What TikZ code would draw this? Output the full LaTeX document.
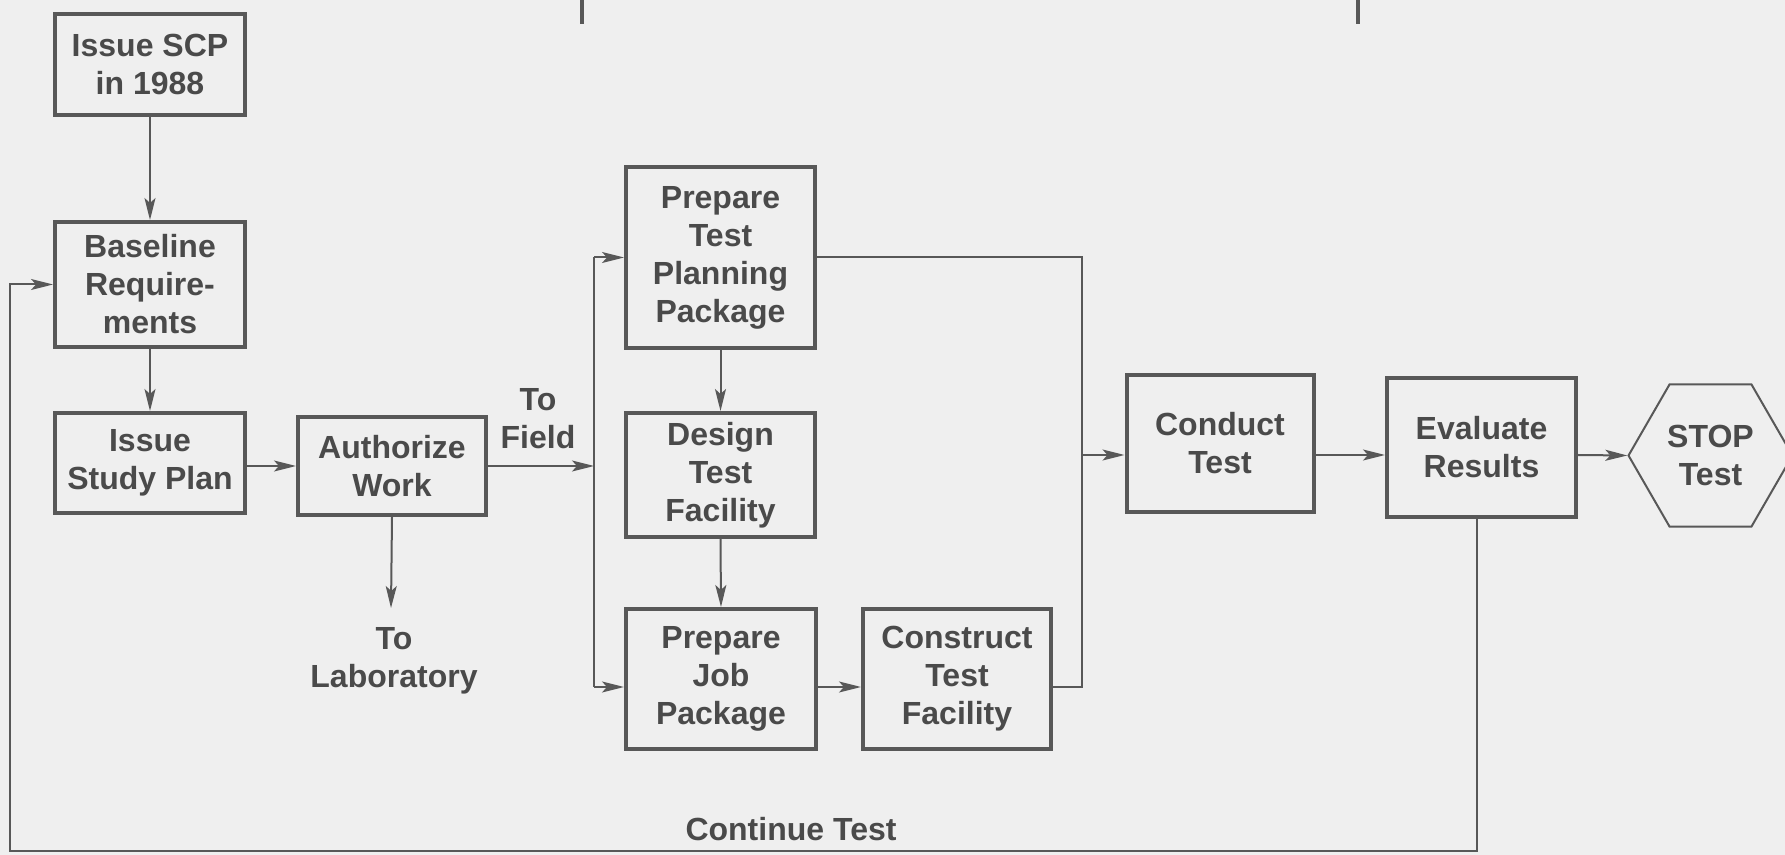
\documentclass[tikz,border=0pt]{standalone}
\usepackage{fontspec}
\setmainfont{Liberation Sans}
\usetikzlibrary{arrows.meta,shapes.geometric}
\definecolor{paper}{HTML}{EFEFEF}
\definecolor{ink}{HTML}{585858}
\definecolor{txt}{HTML}{4A4A4A}
\tikzset{
  labelfont/.style={font=\bfseries\fontsize{16}{19}\selectfont, text=txt},
  box/.style={draw=ink, line width=2pt, align=center, inner sep=0pt, labelfont},
  hexa/.style={draw=ink, line width=1pt, align=center, inner sep=0pt, labelfont,
    regular polygon, regular polygon sides=6},
  lbl/.style={align=center, inner sep=0pt, labelfont},
  flow/.style={draw=ink, line width=1pt},
  arr/.style={flow, -{Stealth[length=11pt,width=5.5pt,inset=2.5pt]}},
}
\begin{document}
\begin{tikzpicture}[x=0.5pt,y=-0.5pt]
\fill[paper] (0,0) rectangle (1785,855);
\useasboundingbox (0,0) rectangle (1785,855);

% left column
\node[box, minimum width=95pt, minimum height=50.5pt] (scp)   at (150,64.5)  {Issue SCP\\in 1988};
\node[box, minimum width=95pt, minimum height=62.5pt] (base)  at (150,284.5) {Baseline\\Require-\\ments};
\node[box, minimum width=95pt, minimum height=50pt]   (study) at (150,463)   {Issue\\Study Plan};
\node[box, minimum width=94pt, minimum height=49pt]   (auth)  at (392,466)   {Authorize\\Work};

% field branch
\node[box, minimum width=94.5pt, minimum height=90.5pt] (ptp) at (720.5,257.5) {Prepare\\Test\\Planning\\Package};
\node[box, minimum width=94.5pt, minimum height=62pt]   (dtf) at (720.5,475)   {Design\\Test\\Facility};
\node[box, minimum width=95pt,   minimum height=70pt]   (pjp) at (721,679)     {Prepare\\Job\\Package};
\node[box, minimum width=94pt,   minimum height=70pt]   (ctf) at (957,679)     {Construct\\Test\\Facility};

% test and evaluation
\node[box, minimum width=93.5pt, minimum height=68.5pt] (cond) at (1220,443.5)  {Conduct\\Test};
\node[box, minimum width=94.5pt, minimum height=69.5pt] (eval) at (1481.5,447.5) {Evaluate\\Results};
\node[hexa, minimum size=82pt] (stop) at (1710.5,455.5) {STOP\\Test};

% free labels
\node[lbl] (field) at (538,419) {To\\Field};
\node[lbl] (lab)   at (394,661) {To\\Laboratory};
\node[lbl] (cont)  at (791,829) {Continue Test};

% routing points
\coordinate (split)   at (594,466);
\coordinate (splitT)  at (594,257.5);
\coordinate (splitB)  at (594,687);
\coordinate (joinT)   at (1082,257.5);
\coordinate (joinB)   at (1082,687);
\coordinate (row)     at (1082,455);
\coordinate (labtip)  at (391,608);
\coordinate (loopR)   at (1477,851);
\coordinate (loopL)   at (10,851);
\coordinate (tickA)   at (582,0);
\coordinate (tickB)   at (1358,0);

% marks at the top edge
\draw[draw=ink, line width=1.6pt] (tickA) -- ++(0,24);
\draw[draw=ink, line width=1.6pt] (tickB) -- ++(0,24);

% main sequence
\draw[arr] (scp.south) -- (base.north);
\draw[arr] (base.south) -- (study.north);
\draw[arr] (study.east |- auth.west) -- (auth.west);
\draw[arr] (auth.east |- split) -- (split);
\draw[arr] (auth.south) -- (labtip);

% split to the two field paths
\draw[flow] (splitT) -- (splitB);
\draw[arr] (splitT) -- (ptp.west |- splitT);
\draw[arr] (splitB) -- (pjp.west |- splitB);
\draw[arr] (ptp.south) -- (dtf.north);
\draw[arr] (dtf.south) -- (pjp.north);
\draw[arr] (pjp.east |- splitB) -- (ctf.west |- splitB);

% join into the test
\draw[flow] (ptp.east |- joinT) -- (joinT) -- (joinB) -- (ctf.east |- joinB);
\draw[arr] (row) -- (cond.west |- row);
\draw[arr] (cond.east |- row) -- (eval.west |- row);
\draw[arr] (eval.east |- row) -- (stop.west);

% feedback loop
\draw[arr] (eval.south -| loopR) -- (loopR) -- (loopL) -- (loopL |- base.west) -- (base.west);
\end{tikzpicture}
\end{document}
